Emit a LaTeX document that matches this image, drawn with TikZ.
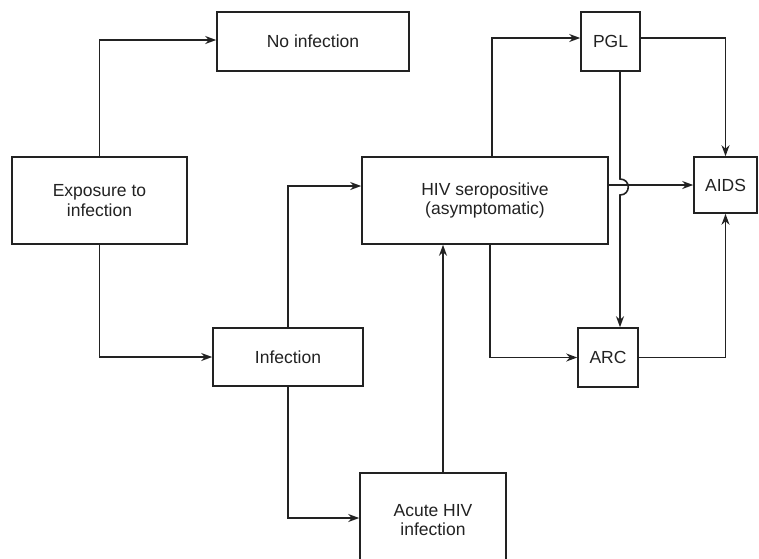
\documentclass[tikz,border=0pt]{standalone}
\usepackage{fontspec}
\setmainfont{Liberation Sans}
\usetikzlibrary{arrows.meta,calc}
\definecolor{ink}{HTML}{222222}
\begin{document}
\begin{tikzpicture}[x=1pt,y=-1pt,
  box/.style={draw=ink,line width=1.6pt,rectangle,inner sep=0pt,align=center,
    text=ink,font=\fontsize{17.5}{19.5}\selectfont},
  conn/.style={draw=ink,line width=1.6pt,-{Stealth[length=11pt,width=8pt]}}]
\useasboundingbox (0,0) rectangle (759,558);
\clip (0,0) rectangle (759,558);
\fill[white] (0,0) rectangle (759,558);
\node[box,minimum width=175pt,minimum height=87pt] (expo) at (99.5,200.5) {Exposure to\\infection};
\node[box,minimum width=192pt,minimum height=59pt] (noinf) at (313,41.5) {No infection};
\node[box,minimum width=150pt,minimum height=58pt] (inf) at (288,357) {Infection};
\node[box,minimum width=246pt,minimum height=87pt] (hiv) at (485,200.5) {HIV seropositive\\(asymptomatic)};
\node[box,minimum width=146pt,minimum height=94pt] (acute) at (433,520) {Acute HIV\\infection};
\node[box,minimum width=59pt,minimum height=59pt] (pgl) at (610.5,41.5) {PGL};
\node[box,minimum width=60pt,minimum height=59pt] (arc) at (608,357.5) {ARC};
\node[box,minimum width=63pt,minimum height=56pt] (aids) at (725.5,185) {AIDS};
\coordinate (vx) at (620,187);
\coordinate (ax) at (443,300);
\coordinate (hx) at (490,100);
\coordinate (hy) at (492,100);
\draw[conn] (expo.north) |- ([yshift=1.5pt]noinf.west);
\draw[conn] (expo.south) |- (inf.west);
\draw[conn] (inf.north) |- ([yshift=14.5pt]hiv.west);
\draw[conn] (inf.south) |- ([yshift=2pt]acute.west);
\draw[conn] (acute.north -| ax) -- (hiv.south -| ax);
\draw[conn] (hiv.north -| hy) |- ([yshift=3.5pt]pgl.west);
\draw[conn] (hiv.south -| hx) |- (arc.west);
\draw[conn] (hiv.east |- aids.west) -- (aids.west);
\draw[conn] ([yshift=3.5pt]pgl.east) -| (aids.north);
\draw[conn] (arc.east) -| (aids.south);
\draw[conn] (pgl.south -| vx) -- ($(vx)+(0,-8)$) .. controls ($(vx)+(11,-8)$) and ($(vx)+(11,8)$) .. ($(vx)+(0,8)$) -- (arc.north -| vx);
\end{tikzpicture}
\end{document}
